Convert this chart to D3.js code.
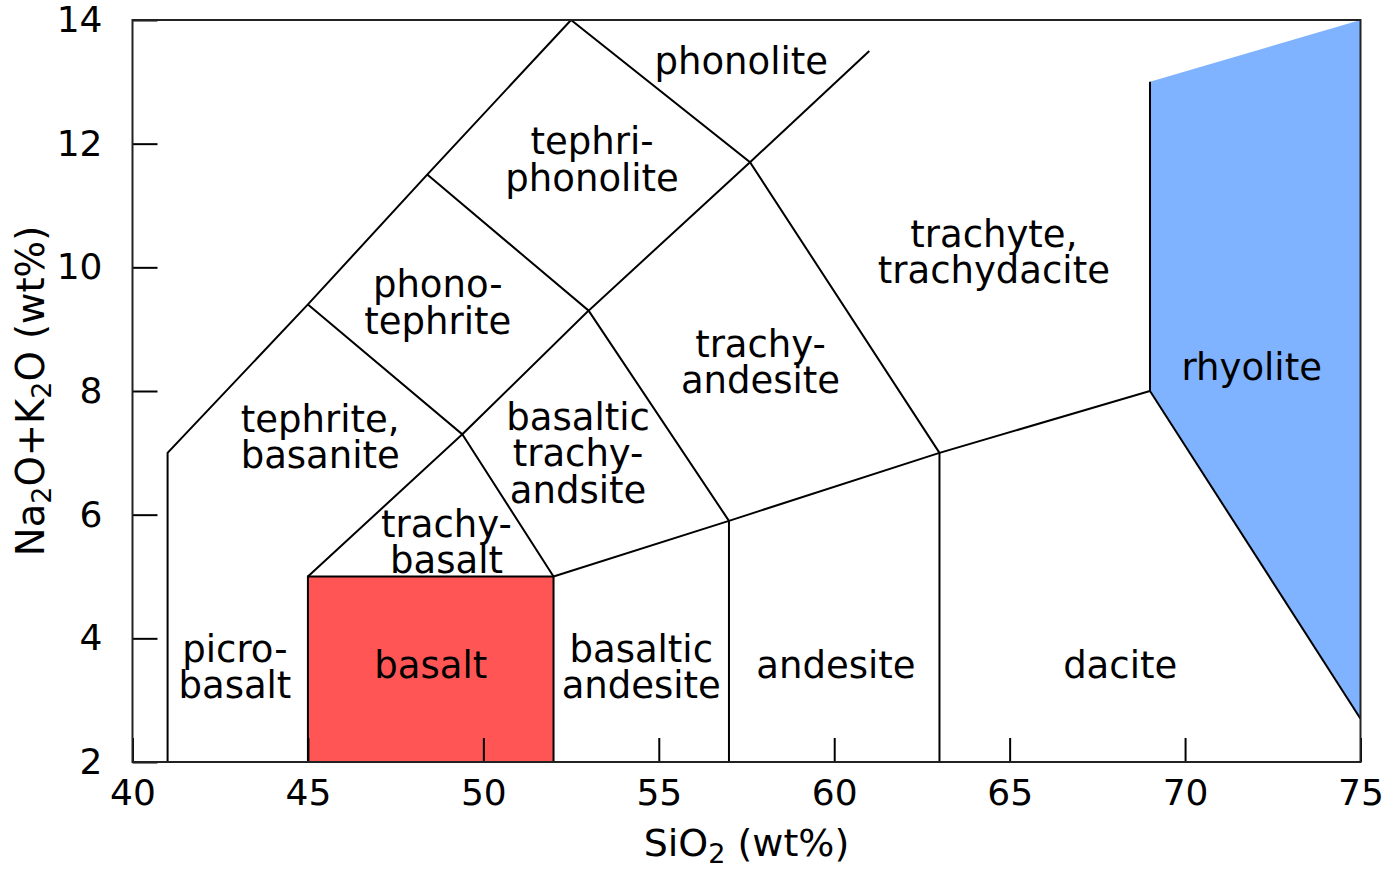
<!DOCTYPE html>
<html>
<head>
<meta charset="utf-8">
<script src="https://cdn.jsdelivr.net/npm/d3@7"></script>
<style>
  body { margin: 0; background: #fff; }
  text { font-family: "DejaVu Sans", Verdana, sans-serif; fill: #000; }
</style>
</head>
<body>
<svg id="chart" width="1383" height="869"></svg>
<script>
// TAS diagram data (SiO2 vs Na2O+K2O, wt%)
var xTicks = [40, 45, 50, 55, 60, 65, 70, 75];
var yTicks = [2, 4, 6, 8, 10, 12, 14];

// filled fields
var basaltField = [[45, 2], [45, 5], [52, 5], [52, 2]];
var rhyoliteField = [[69, 8], [69, 13], [75, 14], [75, 2.7]];

// field boundaries
var boundaries = [
  [[41, 2], [41, 7], [45, 9.4], [48.4, 11.5], [52.5, 14]],
  [[45, 2], [45, 5], [52, 5], [52, 2]],
  [[45, 5], [49.4, 7.3], [52, 5]],
  [[45, 9.4], [49.4, 7.3], [53, 9.3], [57, 5.9]],
  [[48.4, 11.5], [53, 9.3], [57.6, 11.7]],
  [[52.5, 14], [57.6, 11.7], [63, 7]],
  [[57.6, 11.7], [61, 13.5]],
  [[52, 5], [57, 5.9], [63, 7], [69, 8], [69, 13]],
  [[57, 2], [57, 5.9]],
  [[63, 2], [63, 7]],
  [[69, 8], [75, 2.7]]
];

// field names, position = baseline of first line
var fieldNames = [
  { lines: ["phonolite"], x: 57.35, y: 13.13 },
  { lines: ["tephri-", "phonolite"], x: 53.1, y: 11.83 },
  { lines: ["phono-", "tephrite"], x: 48.7, y: 9.52 },
  { lines: ["tephrite,", "basanite"], x: 45.35, y: 7.34 },
  { lines: ["trachy-", "basalt"], x: 48.95, y: 5.64 },
  { lines: ["basaltic", "trachy-", "andsite"], x: 52.7, y: 7.37 },
  { lines: ["trachy-", "andesite"], x: 57.9, y: 8.55 },
  { lines: ["trachyte,", "trachydacite"], x: 64.55, y: 10.33 },
  { lines: ["rhyolite"], x: 71.9, y: 8.18 },
  { lines: ["picro-", "basalt"], x: 42.92, y: 3.62 },
  { lines: ["basalt"], x: 48.5, y: 3.36 },
  { lines: ["basaltic", "andesite"], x: 54.5, y: 3.62 },
  { lines: ["andesite"], x: 60.05, y: 3.36 },
  { lines: ["dacite"], x: 68.15, y: 3.36 }
];

var svg = d3.select("#chart");

var x = d3.scaleLinear().domain([40, 75]).range([132.5, 1360.5]);
var y = d3.scaleLinear().domain([2, 14]).range([762, 20]);

var line = d3.line()
  .x(function(d) { return x(d[0]); })
  .y(function(d) { return y(d[1]); });

svg.append("rect")
  .attr("width", 1383).attr("height", 869).attr("fill", "#fff");

// fills
svg.append("path")
  .attr("d", line(basaltField) + "Z")
  .attr("fill", "#ff5555");

svg.append("path")
  .attr("d", line(rhyoliteField) + "Z")
  .attr("fill", "#80b3ff");

// boundaries
svg.append("g")
  .selectAll("path")
  .data(boundaries)
  .enter().append("path")
    .attr("d", line)
    .attr("fill", "none")
    .attr("stroke", "#000")
    .attr("stroke-width", 2)
    .attr("stroke-linejoin", "miter");

// axes with inward ticks
var xAxis = svg.append("g")
  .attr("transform", "translate(0," + y(2) + ")")
  .call(d3.axisBottom(x).tickValues(xTicks).tickSizeInner(-24).tickSizeOuter(0).tickPadding(17));

var yAxis = svg.append("g")
  .attr("transform", "translate(" + x(40) + ",0)")
  .call(d3.axisLeft(y).tickValues(yTicks).tickSizeInner(-25).tickSizeOuter(0).tickPadding(30));

[xAxis, yAxis].forEach(function(a) {
  a.select(".domain").remove();
  a.selectAll(".tick line").attr("stroke", "#000").attr("stroke-width", 2);
  a.selectAll(".tick text")
    .style("font-family", "'DejaVu Sans', Verdana, sans-serif")
    .style("font-size", "36px")
    .attr("fill", "#000");
});

// frame
svg.append("rect")
  .attr("x", x(40)).attr("y", y(14))
  .attr("width", x(75) - x(40)).attr("height", y(2) - y(14))
  .attr("fill", "none")
  .attr("stroke", "#222")
  .attr("stroke-width", 2);

// field labels
var labels = svg.append("g")
  .selectAll("text")
  .data(fieldNames)
  .enter().append("text")
    .attr("x", function(d) { return x(d.x); })
    .attr("y", function(d) { return y(d.y); })
    .attr("text-anchor", "middle")
    .style("font-size", "37px");

labels.selectAll("tspan")
  .data(function(d) { return d.lines.map(function(l) { return { t: l, x: x(d.x) }; }); })
  .enter().append("tspan")
    .attr("x", function(d) { return d.x; })
    .attr("dy", function(d, i) { return i === 0 ? 0 : 36.5; })
    .text(function(d) { return d.t; });

// axis titles
var xt = svg.append("text")
  .attr("x", (x(40) + x(75)) / 2)
  .attr("y", 856)
  .attr("text-anchor", "middle")
  .style("font-size", "38px");
xt.append("tspan").text("SiO");
xt.append("tspan").attr("dy", 7).style("font-size", "27px").text("2");
xt.append("tspan").attr("dy", -7).text(" (wt%)");

var yt = svg.append("text")
  .attr("transform", "translate(44," + (y(2) + y(14)) / 2 + ") rotate(-90)")
  .attr("text-anchor", "middle")
  .style("font-size", "38.5px");
yt.append("tspan").text("Na");
yt.append("tspan").attr("dy", 7).style("font-size", "27px").text("2");
yt.append("tspan").attr("dy", -7).text("O+K");
yt.append("tspan").attr("dy", 7).style("font-size", "27px").text("2");
yt.append("tspan").attr("dy", -7).text("O (wt%)");
</script>
</body>
</html>
